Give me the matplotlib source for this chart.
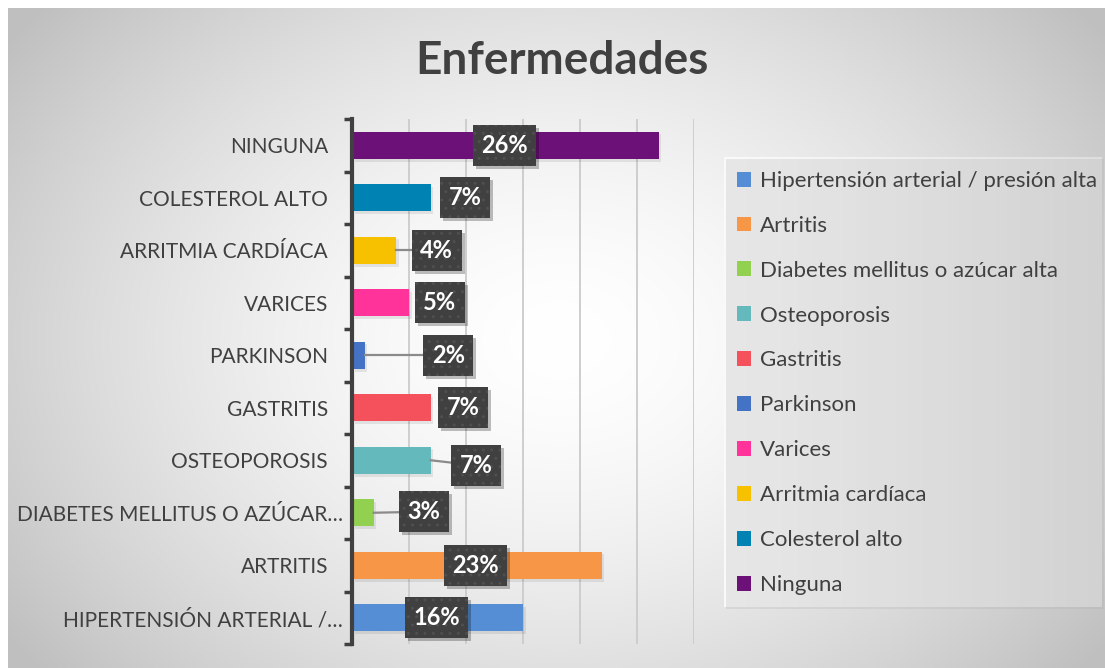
import numpy as np
import matplotlib
matplotlib.use("Agg")
import matplotlib.pyplot as plt
from matplotlib.patches import Patch, Rectangle
import matplotlib.patheffects as pe
import matplotlib.transforms as mtrans

# ---------------- data ----------------
categories = ["Hipertensión arterial / presión alta", "Artritis",
              "Diabetes mellitus o azúcar alta", "Osteoporosis", "Gastritis",
              "Parkinson", "Varices", "Arritmia cardíaca", "Colesterol alto",
              "Ninguna"]
tick_labels = ["HIPERTENSIÓN ARTERIAL /…", "ARTRITIS", "DIABETES MELLITUS O AZÚCAR…",
               "OSTEOPOROSIS", "GASTRITIS", "PARKINSON", "VARICES",
               "ARRITMIA CARDÍACA", "COLESTEROL ALTO", "NINGUNA"]
values = [15.0, 21.9, 1.9, 6.9, 6.9, 1.1, 5.0, 3.9, 6.9, 26.9]
value_labels = ["16%", "23%", "3%", "7%", "7%", "2%", "5%", "4%", "7%", "26%"]
colors = ["#558ED5", "#F79646", "#92D050", "#64B9BD", "#F4515C",
          "#4472C4", "#FF3399", "#F8C100", "#0083B3", "#6B1177"]
title = "Enfermedades"

# label placement (style)
label_x = [7.42, 10.8, 6.28, 10.9, 9.77, 8.46, 7.68, 7.42, 9.95, 13.35]
label_dy = [0, 0, 0.02, -0.1, 0, 0, 0, 0, 0, 0]
leader = [2, 3, 5, 7]
tick_off = [-9, -24, -9, -24, -24, -24, -24, -24, -24, -24]

W, H = 1105, 668
DPI = 100
fig = plt.figure(figsize=(W / DPI, H / DPI), dpi=DPI)
fig.patch.set_facecolor("white")
FONT = "Lato"

# ---------------- background gradient ----------------
bg = fig.add_axes([8 / W, 0, 1 - 8 / W, (H - 8) / H])
bg.set_axis_off()
xs = np.linspace(8, W, 400)
ys = np.linspace(8, H, 250)
X, Y = np.meshgrid(xs, ys)
cx, cy = 560, 340
t = np.sqrt(((X - cx) / 680) ** 2 + ((Y - cy) / 520) ** 2)
t = np.clip(t, 0, 1) ** 1.6
val = 1.0 - 0.25 * t
img = np.dstack([val, val, val])
bg.imshow(img, aspect="auto", extent=[0, 1, 0, 1], origin="upper")
bg.set_xlim(0, 1)
bg.set_ylim(0, 1)

# ---------------- legend box ----------------
lx0, lx1, ly0, ly1 = 724, 1102, 157, 607
sh = Rectangle(((lx0 + 2) / W, 1 - (ly1 + 2) / H), (lx1 - lx0) / W, (ly1 - ly0) / H,
               transform=fig.transFigure, facecolor="#b0b0b0", alpha=0.25,
               edgecolor="none", zorder=1)
fig.patches.append(sh)
lg = fig.add_axes([lx0 / W, 1 - ly1 / H, (lx1 - lx0) / W, (ly1 - ly0) / H])
lg.set_axis_off()
gx = np.linspace(0, 1, 200)
gv = 0.98 - 0.11 * gx ** 1.2
gimg = np.dstack([np.tile(gv, (10, 1))] * 3)
lg.imshow(gimg, aspect="auto", extent=[0, 1, 0, 1])
lg.set_xlim(0, 1)
lg.set_ylim(0, 1)

# ---------------- main axes ----------------
ax = fig.add_axes([352 / W, 1 - 644 / H, 342 / W, 525 / H])
ax.patch.set_alpha(0)
ypos = np.arange(len(values))
bars = ax.barh(ypos, values, height=0.52, color=colors, zorder=3)
for b in bars:
    b.set_path_effects([pe.SimplePatchShadow(offset=(2, -2), shadow_rgbFace="#000000", alpha=0.08), pe.Normal()])

ax.set_xlim(0, 30)
ax.set_ylim(-0.5, len(values) - 0.5)
ax.set_xticks(np.arange(5, 31, 5))
ax.xaxis.grid(True, color="#cbcbcb", linewidth=1.3, zorder=0)
ax.tick_params(axis="x", length=0, labelbottom=False)
for s in ["top", "right", "bottom"]:
    ax.spines[s].set_visible(False)
ax.spines["left"].set_color("#404040")
ax.spines["left"].set_linewidth(3)
ax.spines["left"].set_zorder(5)

ax.set_yticks(np.arange(-0.5, len(values), 1.0))
ax.set_yticklabels([])
ax.tick_params(axis="y", which="major", length=6, width=2.5, color="#404040")

# category labels
ytrans = mtrans.blended_transform_factory(ax.transAxes, ax.transData)
for i, lab in enumerate(tick_labels):
    ax.annotate(lab, xy=(0, ypos[i]), xycoords=ytrans,
                xytext=(tick_off[i] * 0.72, -1.5), textcoords="offset points",
                ha="right", va="center", fontfamily=FONT, fontsize=15,
                color="#404040", annotation_clip=False)

# data labels (boxes sized in pixels around the label centre)
box_h = 41 / DPI
for i, (v, lab) in enumerate(zip(values, value_labels)):
    yy = ypos[i] + label_dy[i]
    box_w = (24 + 13 * len(lab)) / DPI
    if i in leader:
        ax.plot([v, label_x[i]], [ypos[i], yy], color="#8a8a8a", lw=1.6, zorder=4)
    anchor = mtrans.ScaledTranslation(label_x[i], yy, ax.transData)
    sh_tr = fig.dpi_scale_trans + anchor
    ax.add_patch(Rectangle((-box_w / 2 + 0.03, -box_h / 2 - 0.03), box_w, box_h,
                           transform=sh_tr, facecolor="#000000", alpha=0.25,
                           edgecolor="none", zorder=5.4, clip_on=False))
    ax.add_patch(Rectangle((-box_w / 2, -box_h / 2), box_w, box_h,
                           transform=sh_tr, facecolor="#404040", edgecolor="#4f4f4f",
                           hatch="..", linewidth=0.0, zorder=5.6, clip_on=False))
    ax.text(label_x[i], yy, lab, ha="center", va="center", fontfamily=FONT,
            fontweight="bold", fontsize=17, color="white", zorder=6)

# ---------------- title ----------------
fig.text(562 / W, 1 - 61 / H, title, ha="center", va="center", fontfamily=FONT,
         fontweight="bold", fontsize=33, color="#404040")

# ---------------- legend ----------------
handles = [Patch(facecolor=c, edgecolor="none") for c in colors]
leg = fig.legend(handles, categories, loc="upper left",
                 bbox_to_anchor=(728 / W, 1 - 162 / H), frameon=False,
                 prop={"family": FONT, "size": 16}, labelcolor="#404040",
                 handlelength=0.65, handleheight=0.65, handletextpad=0.4,
                 labelspacing=1.12, borderaxespad=0)
leg.set_zorder(10)

fig.savefig("out.png", dpi=DPI)
